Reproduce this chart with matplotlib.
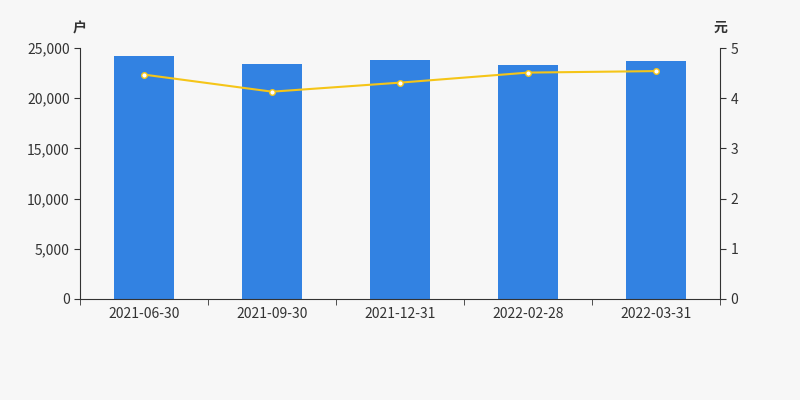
import matplotlib
matplotlib.use("Agg")
import matplotlib.pyplot as plt
from matplotlib.ticker import FuncFormatter

plt.rcParams['font.family'] = ['Noto Sans CJK SC', 'DejaVu Sans']

dates = ["2021-06-30", "2021-09-30", "2021-12-31", "2022-02-28", "2022-03-31"]
holders = [24200, 23400, 23800, 23300, 23700]
price = [4.47, 4.13, 4.31, 4.51, 4.54]

fig = plt.figure(figsize=(8, 4), dpi=100, facecolor='#f7f7f7')
ax = fig.add_axes([0.1, 0.2525, 0.8, 0.6275], facecolor='#f7f7f7')
x = list(range(len(dates)))
ax.bar(x, holders, width=0.47, color='#3282e2', zorder=2)
ax.set_xlim(-0.5, len(dates) - 0.5)
ax.set_ylim(0, 25000)
ax.set_yticks(range(0, 25001, 5000))
ax.yaxis.set_major_formatter(FuncFormatter(lambda v, p: f"{int(v):,}"))
ax.set_xticks(x)
ax.set_xticklabels(dates)
ax.set_xticks([i - 0.5 for i in range(len(dates) + 1)], minor=True)
ax.tick_params(axis='x', which='major', length=0, pad=6)
ax.tick_params(axis='x', which='minor', length=4, color='#333333')
ax.tick_params(axis='y', length=4, color='#333333')
for s in ['top', 'right']:
    ax.spines[s].set_visible(False)
ax.spines['left'].set_color('#333333')
ax.spines['bottom'].set_color('#333333')
ax.tick_params(labelsize=10, labelcolor='#333333')

ax2 = ax.twinx()
ax2.plot(x, price, color='#f5c518', lw=1.5, marker='o', markersize=4,
         markerfacecolor='white', markeredgecolor='#f5c518', zorder=3)
ax2.set_ylim(0, 5)
ax2.set_yticks(range(0, 6))
for s in ['top', 'left', 'bottom']:
    ax2.spines[s].set_visible(False)
ax2.spines['right'].set_color('#333333')
ax2.tick_params(axis='y', length=4, color='#333333', labelsize=10, labelcolor='#333333')

fig.text(0.1, 0.92, '户', ha='center', fontsize=10, color='#333333', fontweight='bold')
fig.text(0.9, 0.92, '元', ha='center', fontsize=10, color='#333333', fontweight='bold')
fig.savefig('out.png', dpi=100, facecolor=fig.get_facecolor())
